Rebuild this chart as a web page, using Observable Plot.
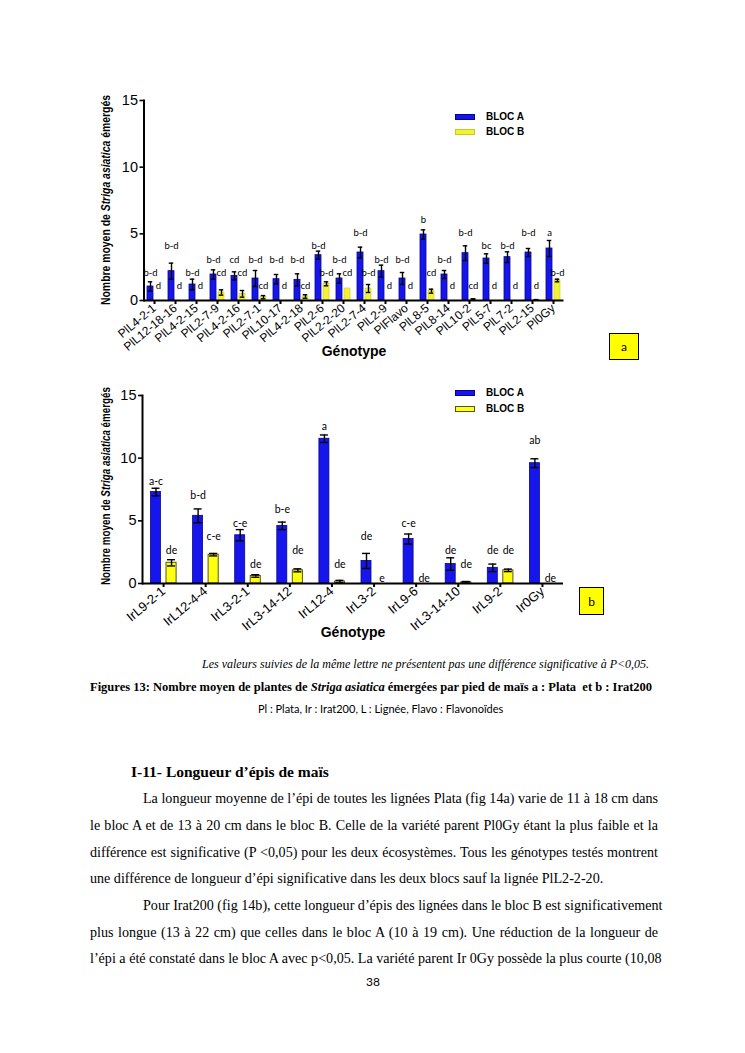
<!DOCTYPE html>
<html><head><meta charset="utf-8">
<script src="https://cdn.jsdelivr.net/npm/d3@7"></script>
<script src="https://cdn.jsdelivr.net/npm/@observablehq/plot@0.6"></script>
<style>
body{margin:0;background:#fff;}
#page{position:relative;width:745px;height:1053px;overflow:hidden;font-family:"Liberation Serif","Times New Roman",serif;color:#000;}
.abs{position:absolute;}
.chart{position:absolute;left:0;}
.chart [aria-label="x-axis label"] text{font-weight:bold;font-size:14px;}
.leg{position:absolute;font-family:"Liberation Sans",Arial,sans-serif;font-weight:bold;font-size:10px;line-height:12px;}
.sw{position:absolute;width:20px;height:6px;box-sizing:border-box;}
.box{position:absolute;background:#ffff00;border:1px solid #000;box-sizing:border-box;font-family:Lato,"Open Sans",sans-serif;font-size:12px;display:flex;align-items:center;justify-content:center;}
.line{position:absolute;left:90px;width:568px;font-size:14.1px;line-height:26px;height:26px;white-space:nowrap;text-align:justify;text-align-last:justify;}
</style></head><body><div id="page"></div>
<script>
// ---------- Data: figure a (Plata) ----------
const genotypesA = ["PlL4-2-1","PlL12-18-16","PlL4-2-15","PlL2-7-9","PlL4-2-16","PlL2-7-1","PlL10-17","PlL4-2-18","PlL2-6","PlL2-2-20","PlL2-7-4","PlL2-9","PlFlavo","PlL8-5","PlL8-14","PlL10-2","PlL5-7","PlL7-2","PlL2-15","Pl0Gy"];
const blocA_a = [1.05, 2.2, 1.2, 1.95, 1.85, 1.65, 1.6, 1.55, 3.4, 1.65, 3.6, 2.2, 1.65, 4.95, 1.95, 3.55, 3.15, 3.25, 3.6, 3.9];
const errA_a  = [0.35, 0.6, 0.4, 0.35, 0.3, 0.6, 0.35, 0.45, 0.3, 0.35, 0.4, 0.45, 0.45, 0.35, 0.3, 0.55, 0.35, 0.4, 0.3, 0.6];
const blocB_a = [0, 0, 0, 0.6, 0.5, 0.25, 0, 0.3, 1.25, 0.9, 0.9, 0, 0, 0.7, 0, 0.1, 0, 0, 0.05, 1.5];
const errB_a  = [0, 0, 0, 0.2, 0.25, 0.12, 0, 0.13, 0.15, 0, 0.3, 0, 0, 0.15, 0, 0.03, 0, 0, 0.02, 0.1];
const lettersA_a = ["b-d","b-d","b-d","b-d","cd","b-d","b-d","b-d","b-d","b-d","b-d","b-d","b-d","b","b-d","b-d","bc","b-d","b-d","a"];
const lettersB_a = ["d","d","d","cd","cd","cd","d","cd","b-d","cd","b-d","d","d","cd","d","cd","d","d","d","b-d"];

// ---------- Data: figure b (Irat200) ----------
const genotypesB = ["IrL9-2-1","IrL12-4-4","IrL3-2-1","IrL3-14-12","IrL12-4","IrL3-2","IrL9-6","IrL3-14-10","IrL9-2","Ir0Gy"];
const blocA_b = [7.3, 5.4, 3.85, 4.6, 11.55, 1.8, 3.55, 1.55, 1.25, 9.6];
const errA_b  = [0.3, 0.55, 0.45, 0.3, 0.3, 0.6, 0.4, 0.5, 0.3, 0.35];
const blocB_b = [1.65, 2.3, 0.6, 1.05, 0.15, 0, 0, 0.1, 1.05, 0];
const errB_b  = [0.25, 0.1, 0.1, 0.12, 0.1, 0, 0, 0.06, 0.1, 0];
const lettersA_b = ["a-c","b-d","c-e","b-e","a","de","c-e","de","de","ab"];
const lettersB_b = ["de","c-e","de","de","de","e","de","de","de","de"];

const yTicks = [0, 5, 10, 15];
const seriesNames = ["BLOC A", "BLOC B"];

const BLUE = "#1616ec", BLUE_STROKE = "#05058f";

function makeChart(cfg) {
  const rows = cfg.genotypes.map((g, i) => ({g, a: cfg.A[i], ea: cfg.eA[i], b: cfg.B[i], eb: cfg.eB[i], la: cfg.labA[i], lb: cfg.labB[i]}));
  const bw = (cfg.width - cfg.marginLeft - cfg.marginRight) / cfg.genotypes.length;
  const level = top => {
    const k = Math.max(0, Math.ceil((top + cfg.row.margin - cfg.row.offset) / cfg.row.h));
    return cfg.row.offset + k * cfg.row.h;
  };
  const barW = bw - cfg.aL - cfg.aR;
  const cA = cfg.aL + barW / 2, cB = cfg.bL + (bw - cfg.bL - cfg.bR) / 2;
  const capA = {insetLeft: cA - cfg.cap / 2, insetRight: bw - cA - cfg.cap / 2};
  const capB = {insetLeft: cB - cfg.cap / 2, insetRight: bw - cB - cfg.cap / 2};
  const dxA = cA - bw / 2, dxB = cB - bw / 2;
  const withErrA = rows.filter(d => d.ea > 0);
  const withB = rows.filter(d => d.b > 0);
  const withErrB = rows.filter(d => d.eb > 0);
  const txt = {fontFamily: "Lato, 'Open Sans', sans-serif", fontSize: cfg.labelSize, fill: "#000"};
  return Plot.plot({
    width: cfg.width, height: cfg.height,
    marginLeft: cfg.marginLeft, marginRight: cfg.marginRight, marginTop: cfg.marginTop, marginBottom: cfg.marginBottom,
    style: {fontFamily: "'Liberation Sans', Arial, sans-serif", background: "transparent", overflow: "visible"},
    x: {domain: cfg.genotypes, padding: 0, round: false},
    y: {domain: [0, 15]},
    marks: [
      Plot.barY(rows, {x: "g", y: "a", fill: BLUE, stroke: BLUE_STROKE, strokeWidth: 0.8, insetLeft: cfg.aL, insetRight: cfg.aR}),
      Plot.barY(withB, {x: "g", y: "b", fill: cfg.yellow, stroke: cfg.yellowStroke, strokeWidth: cfg.yellowStrokeWidth, insetLeft: cfg.bL, insetRight: cfg.bR}),
      Plot.ruleX(withErrA, {x: "g", y1: d => d.a - d.ea, y2: d => d.a + d.ea, dx: dxA, stroke: "#000", strokeWidth: 1.4}),
      Plot.tickY(withErrA, {x: "g", y: d => d.a + d.ea, ...capA, stroke: "#000", strokeWidth: 1.4}),
      Plot.tickY(withErrA, {x: "g", y: d => d.a - d.ea, ...capA, stroke: "#000", strokeWidth: 1.4}),
      Plot.ruleX(withErrB, {x: "g", y1: d => Math.max(0, d.b - d.eb), y2: d => d.b + d.eb, dx: dxB, stroke: "#000", strokeWidth: 1.4}),
      Plot.tickY(withErrB, {x: "g", y: d => d.b + d.eb, ...capB, stroke: "#000", strokeWidth: 1.4}),
      Plot.tickY(withErrB, {x: "g", y: d => Math.max(0, d.b - d.eb), ...capB, stroke: "#000", strokeWidth: 1.4}),
      Plot.text(rows, {x: "g", y: d => level(d.a + d.ea), text: "la", dx: dxA, ...txt}),
      Plot.text(rows, {x: "g", y: d => level(d.b + d.eb), text: "lb", dx: dxB, ...txt}),
      Plot.ruleY([0], {stroke: "#000", strokeWidth: 2}),
      Plot.frame({anchor: "left", stroke: "#000", strokeWidth: 2}),
      Plot.axisY({ticks: yTicks, tickSize: 4, tickPadding: 2, fontSize: 14.5, strokeWidth: 1.6, label: null}),
      Plot.axisX({tickSize: 4, tickPadding: 2, strokeWidth: 2, tickRotate: -40, fontSize: cfg.tickSize,
                  label: "Génotype", labelAnchor: "center", labelOffset: cfg.labelOffset})
    ]
  });
}

function addYTitle(svg, cx, cy, len) {
  const t = d3.select(svg).append("text")
    .attr("transform", `translate(${cx},${cy}) rotate(-90)`)
    .attr("text-anchor", "middle").attr("dominant-baseline", "central")
    .attr("font-family", "'Liberation Sans Narrow','Liberation Sans',Arial,sans-serif")
    .attr("font-weight", "bold").attr("font-size", 13)
    .attr("textLength", len).attr("lengthAdjust", "spacingAndGlyphs");
  t.append("tspan").text("Nombre moyen de ");
  t.append("tspan").attr("font-style", "italic").text("Striga asiatica");
  t.append("tspan").text(" émergés");
}

const page = document.getElementById("page");

function place(svg, top) {
  const wrap = document.createElement("div");
  wrap.className = "chart";
  wrap.style.top = top + "px";
  wrap.appendChild(svg);
  page.appendChild(wrap);
}

function legend(left, top1, top2, yellow, yellowStroke) {
  const items = [[top1, BLUE, BLUE_STROKE, seriesNames[0]], [top2, yellow, yellowStroke, seriesNames[1]]];
  for (const [cy, fill, stroke, name] of items) {
    const sw = document.createElement("div");
    sw.className = "sw";
    sw.style.left = left + "px"; sw.style.top = (cy - 3) + "px";
    sw.style.background = fill; sw.style.border = `1px solid ${stroke}`;
    page.appendChild(sw);
    const tx = document.createElement("div");
    tx.className = "leg";
    tx.style.left = (left + 31) + "px"; tx.style.top = (cy - 6) + "px";
    tx.textContent = name;
    page.appendChild(tx);
  }
}

function box(text, left, top, w, h) {
  const b = document.createElement("div");
  b.className = "box";
  Object.assign(b.style, {left: left + "px", top: top + "px", width: w + "px", height: h + "px"});
  b.textContent = text;
  page.appendChild(b);
}

// Figure a
const svgA = makeChart({
  genotypes: genotypesA, A: blocA_a, eA: errA_a, B: blocB_a, eB: errB_a, labA: lettersA_a, labB: lettersB_a,
  width: 745, height: 285, marginLeft: 143.5, marginRight: 181.5, marginTop: 15, marginBottom: 70,
  aL: 3.5, aR: 11.5, bL: 11.5, bR: 3.5, cap: 4.5,
  yellow: "#f3f335", yellowStroke: "#c8c820", yellowStrokeWidth: 0.6,
  row: {h: 1.0, offset: 0.07, margin: 0.35}, labelSize: 9.5, tickSize: 12, labelOffset: 55
});
addYTitle(svgA, 105, 115, 210);
place(svgA, 85);
legend(455, 117, 132, "#f3f335", "#c8c820");
box("a", 609, 333, 30, 27);

// Figure b
const svgB = makeChart({
  genotypes: genotypesB, A: blocA_b, eA: errA_b, B: blocB_b, eB: errB_b, labA: lettersA_b, labB: lettersB_b,
  width: 745, height: 268, marginLeft: 142, marginRight: 182, marginTop: 20, marginBottom: 60,
  aL: 8.5, aR: 23.6, bL: 24, bR: 8, cap: 8,
  yellow: "#ffff10", yellowStroke: "#55551a", yellowStrokeWidth: 1,
  row: {h: 1.097, offset: 0.42, margin: 0.4}, labelSize: 10.5, tickSize: 13, labelOffset: 53
});
addYTitle(svgB, 105, 111, 198);
place(svgB, 375);
legend(455, 393, 409, "#ffff10", "#55551a");
box("b", 579, 587, 25, 28);

// Captions and body text
function html(h, style) {
  const d = document.createElement("div");
  d.className = "abs";
  d.innerHTML = h;
  Object.assign(d.style, style);
  page.appendChild(d);
  return d;
}
html("Les valeurs suivies de la même lettre ne présentent pas une différence significative à P&lt;0,05.",
  {left: "202px", top: "657px", fontStyle: "italic", fontSize: "12px", whiteSpace: "nowrap"});
html("<b>Figures 13: Nombre moyen de plantes de <i>Striga asiatica</i> émergées par pied de maïs a : Plata&nbsp; et b : Irat200</b>",
  {left: "90px", top: "680px", fontSize: "12.5px", whiteSpace: "nowrap"});
html("Pl : Plata, Ir : Irat200, L : Lignée, Flavo : Flavonoïdes",
  {left: "258px", top: "702px", fontFamily: "Lato, 'Open Sans', sans-serif", fontSize: "11px", whiteSpace: "nowrap"});
html("<b>I-11- Longueur d’épis de maïs</b>", {left: "131px", top: "763px", fontSize: "15.5px", whiteSpace: "nowrap"});

const bodyLines = [
  [53, true, "La longueur moyenne de l’épi de toutes les lignées Plata (fig 14a) varie de 11 à 18 cm dans"],
  [0, true, "le bloc A et de 13 à 20 cm dans le bloc B. Celle de la variété parent Pl0Gy étant la plus faible et la"],
  [0, true, "différence est significative (P &lt;0,05) pour les deux écosystèmes. Tous les génotypes testés montrent"],
  [0, false, "une différence de longueur d’épi significative dans les deux blocs sauf la lignée PlL2-2-20."],
  [53, true, "Pour Irat200 (fig 14b), cette longueur d’épis des lignées dans le bloc B est significativement"],
  [0, true, "plus longue (13 à 22 cm) que celles dans le bloc A (10 à 19 cm). Une réduction de la longueur de"],
  [0, true, "l’épi a été constaté dans le bloc A avec p&lt;0,05. La variété parent Ir 0Gy possède la plus courte (10,08"]
];
const lineCenters = [798, 825, 852, 878, 905, 932, 958];
bodyLines.forEach(([indent, just, t], i) => {
  const d = document.createElement("div");
  d.className = "line";
  d.style.top = (lineCenters[i] - 13) + "px";
  d.style.left = (90 + indent) + "px";
  d.style.width = (568 - indent) + "px";
  if (!just) { d.style.textAlign = "left"; d.style.textAlignLast = "left"; }
  d.innerHTML = t;
  page.appendChild(d);
});
html("38", {left: "366px", top: "974px", fontFamily: "Lato, 'Open Sans', sans-serif", fontSize: "12px"});
</script>
</body></html>
